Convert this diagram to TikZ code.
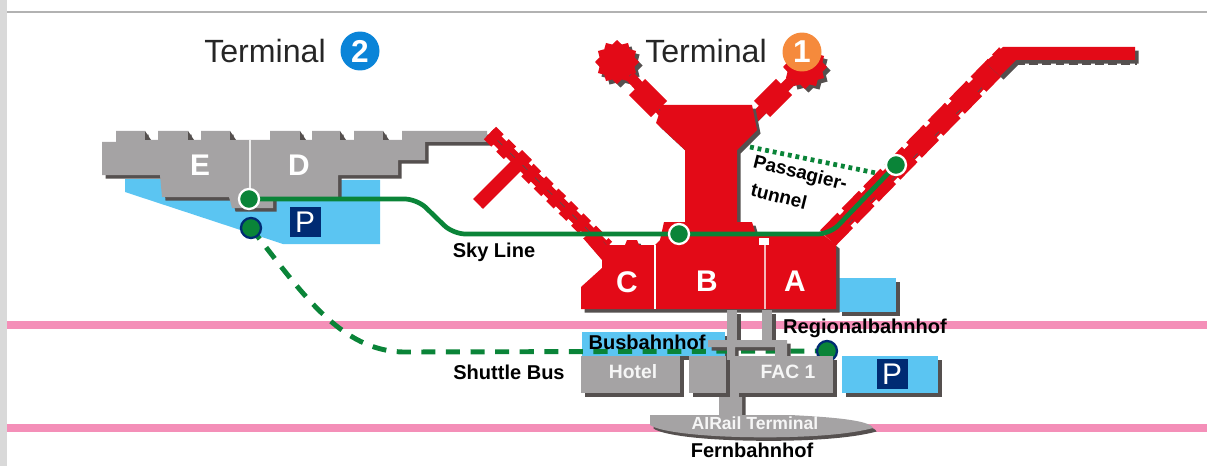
\documentclass[tikz,border=0pt]{standalone}
\usepackage{fontspec}
\setmainfont{Liberation Sans}
\usetikzlibrary{shapes.geometric}
\definecolor{termred}{HTML}{E30A17}
\definecolor{termgray}{HTML}{A5A3A4}
\definecolor{mapshade}{HTML}{55504F}
\definecolor{mapblue}{HTML}{5BC5F2}
\definecolor{mapnavy}{HTML}{002B73}
\definecolor{mapgreen}{HTML}{0A8438}
\definecolor{mappink}{HTML}{F48FB8}
\definecolor{badgeblue}{HTML}{0A84D8}
\definecolor{badgeorange}{HTML}{F58A3C}

\begin{document}
\begin{tikzpicture}[x=0.02cm, y=-0.02cm,
	shadowfill/.style={preaction={fill=mapshade, transform canvas={xshift=2pt, yshift=-2pt}}},
	shadowline/.style={preaction={draw=mapshade, transform canvas={xshift=2pt, yshift=-2pt}}},
	redblock/.style={fill=termred, shadowfill},
	grayblock/.style={fill=termgray, shadowfill},
	blueblock/.style={fill=mapblue, shadowfill},
	pier/.style={draw=termred, line width=6.5pt, shadowline},
	pierteeth/.style={draw=termred, line width=12.5pt, dash pattern=on 14pt off 3.5pt, shadowline},
	hub/.style={star, star points=12, star point ratio=1.22, fill=termred, minimum size=0.88cm, inner sep=0pt, shadowfill},
	railline/.style={draw=mappink, line width=4pt},
	skyline/.style={draw=mapgreen, line width=2.7pt, rounded corners=7pt},
	shuttle/.style={draw=mapgreen, line width=2.8pt, dash pattern=on 8pt off 6pt},
	tunnelline/.style={draw=mapgreen, line width=2.7pt, dash pattern=on 2.2pt off 2.2pt},
	stop/.style={circle, fill=mapgreen, draw=white, line width=1.3pt, minimum size=0.4cm, inner sep=0pt},
	busstop/.style={circle, fill=mapgreen, draw=mapnavy, line width=1.3pt, minimum size=0.4cm, inner sep=0pt},
	numbered/.style={circle, text=white, font=\fontsize{18}{18}\selectfont\bfseries, minimum size=0.78cm, inner sep=0pt},
	terminal/.style={font=\fontsize{18.3}{20}\selectfont, text=black!85},
	letter/.style={text=white, font=\fontsize{17}{20}\selectfont\bfseries},
	smallletter/.style={text=white!90!termgray, font=\fontsize{11}{12}\selectfont\bfseries},
	label/.style={font=\fontsize{11.4}{12}\selectfont\bfseries, text=black},
	parking/.style={fill=mapnavy, text=white, font=\fontsize{17}{20}\selectfont, minimum width=0.62cm, minimum height=0.62cm, inner sep=0pt},
	]

	\useasboundingbox (0,0) rectangle (1207,466);
	\fill[black!15] (0,0) rectangle (7,466);
	\fill[black!30] (7,11) rectangle (1207,13);

	\draw[railline] (7,325) -- (1207,325);
	\draw[railline] (7,428) -- (1207,428);

	\coordinate (jBus) at (251,228);
	\coordinate (jRegio) at (827,351);
	\coordinate (jD) at (249,199);
	\coordinate (jB) at (679,234);
	\coordinate (jA) at (896,165);
	\coordinate (tunnelStart) at (750,147);
	\coordinate (tunnelEnd) at (876,173);

	\fill[mapblue] (125,179) -- (125,192) -- (283,244) -- (380,244) -- (380,180) -- cycle;
	\fill[blueblock] (582,332) rectangle (725,356);
	\fill[blueblock] (838,278) rectangle (896,312);
	\fill[blueblock] (842,356) rectangle (938,393);

	\draw[shuttle] (jBus) .. controls (300,290) and (340,352) .. (405,352) -- (jRegio);
	\node[busstop] (stopBus) at (jBus) {};
	\node[busstop] (stopRegio) at (jRegio) {};

	\fill[grayblock] (102,142) -- (116,142) -- (116,131) -- (145,131) -- (145,140) -- (158,140) -- (158,131)
		-- (188,131) -- (188,140) -- (201,140) -- (201,131) -- (230,131) -- (230,140) -- (270,140) -- (270,131)
		-- (300,131) -- (300,140) -- (312,140) -- (312,131) -- (340,131) -- (340,140) -- (354,140) -- (354,131)
		-- (383,131) -- (383,140) -- (402,140) -- (402,131) -- (487,131) -- (487,142) -- (425,142) -- (425,160)
		-- (398,160) -- (398,175) -- (338,175) -- (338,197) -- (273,197) -- (273,208) -- (232,208) -- (229,197)
		-- (162,197) -- (160,175) -- (102,175) -- cycle;
	\foreach \x in {145,188,230,300,340,383}
		\fill[mapshade] (\x,131) -- (\x+6,140) -- (\x,140) -- cycle;
	\draw[white!80!termgray, line width=1pt] (250,140) -- (250,197);

	\draw[pier, line width=8pt, line cap=butt] (478,204) -- (527,155);
	\draw[pier] (490,133) -- (606,248);
	\draw[pierteeth, line width=10pt, dash pattern=on 6pt off 4pt] (490,133) -- (606,248);

	\draw[pier, line width=8.5pt] (828,238) -- (1007,55);
	\draw[pierteeth] (828,238) -- (1007,55);
	\fill[redblock] (1003,47) -- (1135,47) -- (1135,60) -- (1016,60) -- (1000,76) -- (985,62) -- cycle;
	\draw[mapshade, line width=2.4pt, dash pattern=on 5pt off 2.5pt] (1016,62.5) -- (1137,62.5);

	\node[hub] (hubL) at (617,62) {};
	\node[hub] (hubR) at (805,67) {};
	\draw[pier, line width=6pt] (hubL) -- (668,118);
	\draw[pier, line width=6pt] (hubR) -- (750,122);
	\draw[pier, line width=13pt] (637,87) -- (659,109);
	\draw[pier, line width=13pt] (784,87) -- (762,109);

	\fill[redblock] (581,309) -- (581,287) -- (602,268) -- (602,260) -- (583,238) -- (600,238) -- (606,245)
		-- (625,245) -- (627,240) -- (637,240) -- (639,245)
		-- (655,245) -- (660,240) -- (664,222) -- (685,222) -- (685,150) -- (656,123) -- (662,105)
		-- (752,105) -- (757,130) -- (737,150) -- (737,222) -- (752,222) -- (755,232) -- (820,232)
		-- (836,245) -- (836,309) -- cycle;
	\fill[white] (759,238) rectangle (769,245);
	\draw[white, line width=0.8pt] (655,245) -- (655,309);
	\draw[white!70!termred, line width=0.8pt] (765,245) -- (765,309);

	\fill[grayblock] (727,310) rectangle (737,340);
	\fill[grayblock] (762,310) rectangle (772,340);
	\fill[grayblock] (708,340) -- (787,340) -- (787,356) -- (775,356) -- (775,347) -- (735,347) -- (735,393)
		-- (742,393) -- (742,415) -- (719,415) -- (719,393) -- (727,393) -- (727,347) -- (708,347) -- cycle;
	\fill[grayblock] (581,356) rectangle (680,393);
	\fill[grayblock] (689,356) rectangle (726,393);
	\fill[grayblock] (735,356) rectangle (833,393);
	\fill[grayblock] (650,415) -- (790,415) .. controls (830,417) and (870,420) .. (873,428)
		.. controls (840,437) and (780,438) .. (740,437) .. controls (700,436) and (660,432) .. (650,425) -- cycle;

	\draw[skyline] (jD) -- (417,199) -- (453,234) -- (jB) -- (830,234) -- (jA);
	\draw[tunnelline] (tunnelStart) -- (tunnelEnd);
	\node[stop] (stopD) at (jD) {};
	\node[stop] (stopB) at (jB) {};
	\node[stop] (stopA) at (jA) {};

	\node[terminal] (term2) at (265,51) {Terminal};
	\node[numbered, fill=badgeblue] (num2) at (360,51) {2};
	\node[terminal] (term1) at (706,51) {Terminal};
	\node[numbered, fill=badgeorange] (num1) at (802,52) {1};

	\node[letter] (letE) at (200,165) {E};
	\node[letter] (letD) at (299,165) {D};
	\node[letter] (letC) at (627,282) {C};
	\node[letter] (letB) at (707,281) {B};
	\node[letter] (letA) at (795,281) {A};

	\node[parking] (parkT2) at (305,222) {P\hspace{5pt}};
	\node[parking] (parkFac) at (892,374) {P\hspace{5pt}};

	\node[label] (lblSky) at (494,252) {Sky Line};
	\node[label] (lblShuttle) at (509,372) {Shuttle Bus};
	\node[label] (lblBus) at (647,342) {Busbahnhof};
	\node[label] (lblRegio) at (865,328) {Regionalbahnhof};
	\node[label] (lblFern) at (752,450) {Fernbahnhof};
	\node[label, font=\fontsize{10.8}{12}\selectfont\bfseries, rotate=-14] (lblPass) at (800,174) {Passagier-};
	\node[label, font=\fontsize{10.8}{12}\selectfont\bfseries, rotate=-14] (lblTunnel) at (779,196) {tunnel};

	\node[smallletter] (lblHotel) at (633,372) {Hotel};
	\node[smallletter] (lblFac) at (788,372) {FAC 1};
	\node[smallletter, font=\fontsize{10}{12}\selectfont\bfseries] (lblRail) at (755,423) {AIRail Terminal};

\end{tikzpicture}
\end{document}
